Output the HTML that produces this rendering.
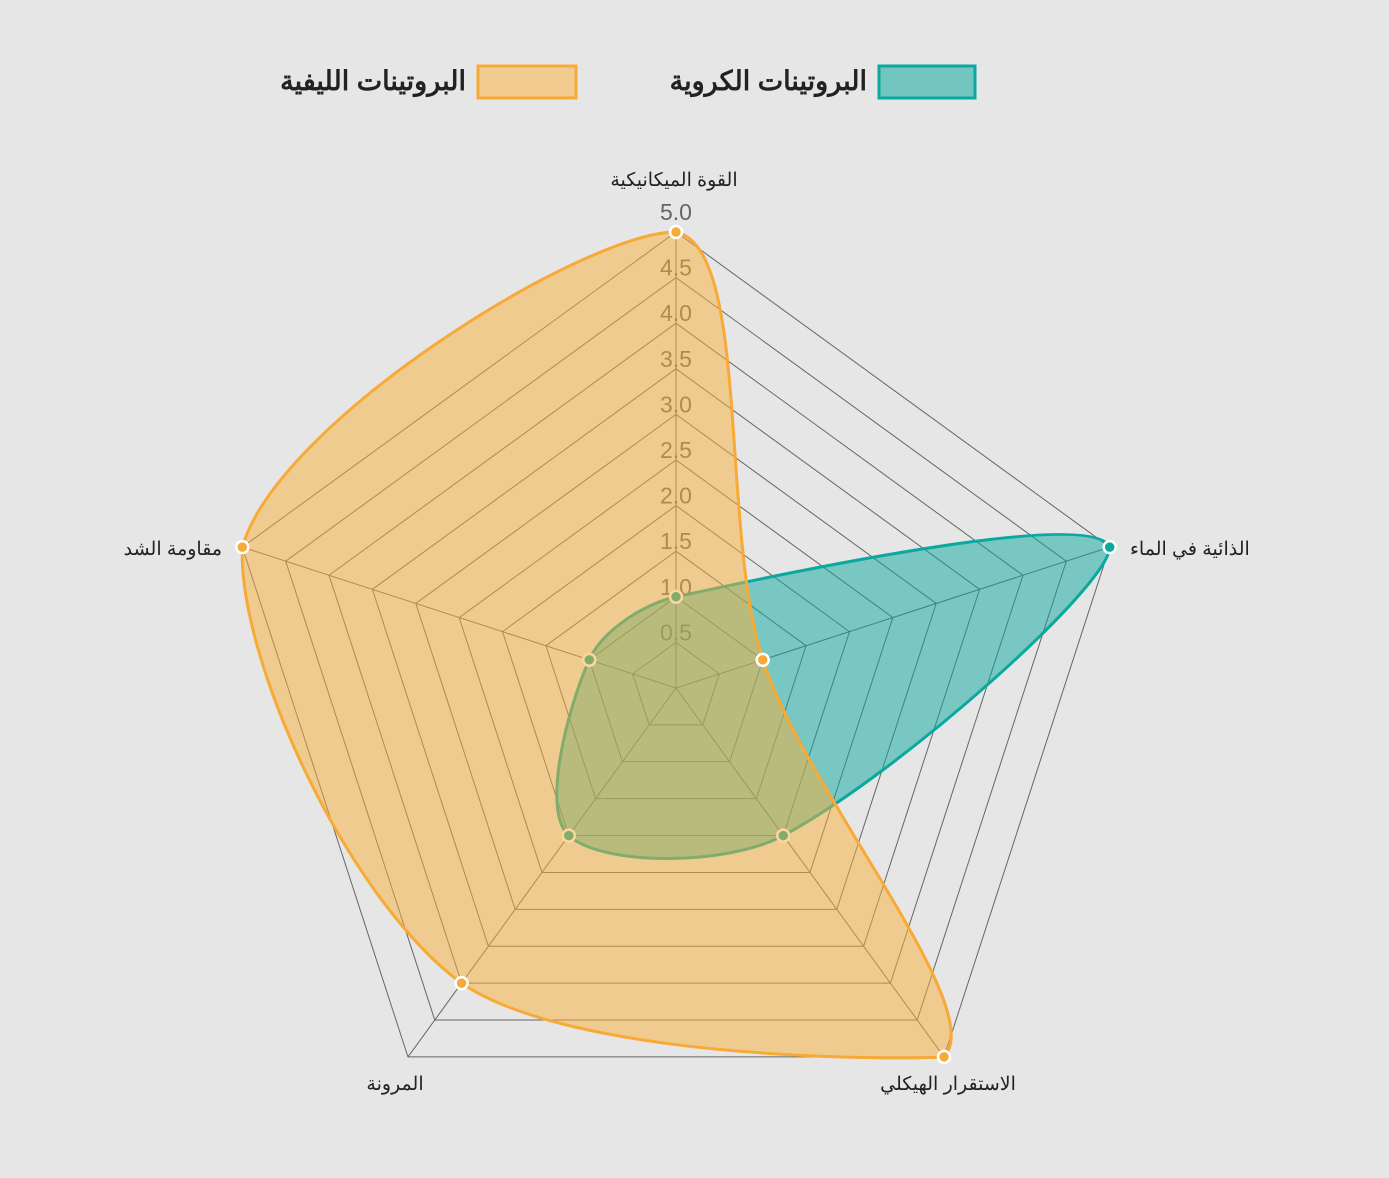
<!DOCTYPE html>
<html><head><meta charset="utf-8"><style>
body{margin:0;background:#e6e6e6;}
svg{display:block;font-family:"Liberation Sans","Noto Sans CJK SC",sans-serif;}
</style></head><body>
<svg id="s" width="1389" height="1178" viewBox="0 0 1389 1178" xmlns="http://www.w3.org/2000/svg">
<rect width="1389" height="1178" fill="#e6e6e6"/>
<rect x="879" y="66" width="96" height="32" fill="#72c6bf" stroke="#0aa89e" stroke-width="3"/>
<text x="867" y="90" text-anchor="end" direction="ltr" font-size="27" font-weight="bold" fill="#222">البروتينات الكروية</text>
<rect x="478" y="66" width="98" height="32" fill="#f1cb8f" stroke="#f7aa35" stroke-width="3"/>
<text x="466" y="90" text-anchor="end" direction="ltr" font-size="27" font-weight="bold" fill="#222">البروتينات الليفية</text>
<g id="grid"></g>
<g id="ticks" font-size="23" fill="#666" text-anchor="middle"></g>
<g id="series"></g>
<g font-size="19" fill="#222">
<text x="674" y="186" text-anchor="middle">القوة الميكانيكية</text>
<text x="1130" y="555" text-anchor="start" direction="ltr">الذائية في الماء</text>
<text x="948" y="1090" text-anchor="middle">الاستقرار الهيكلي</text>
<text x="395" y="1090" text-anchor="middle">المرونة</text>
<text x="222" y="555" text-anchor="end" direction="ltr">مقاومة الشد</text>
</g>
</svg>
<script>
var cx=676,cy=688,R=456,NS="http://www.w3.org/2000/svg";
function pt(i,v){var a=-Math.PI/2+i*2*Math.PI/5;var r=R*v/5;return [cx+r*Math.cos(a),cy+r*Math.sin(a)];}
function el(t,at,p){var e=document.createElementNS(NS,t);for(var k in at)e.setAttribute(k,at[k]);p.appendChild(e);return e;}
var g=document.getElementById('grid');
for(var l=1;l<=10;l++){var ps=[];for(var i=0;i<5;i++)ps.push(pt(i,l/2).join(','));el('polygon',{points:ps.join(' '),fill:'none',stroke:'#666','stroke-width':1},g);}
for(var i=0;i<5;i++){var p=pt(i,5);el('line',{x1:cx,y1:cy,x2:p[0],y2:p[1],stroke:'#666','stroke-width':1},g);}
var tk=document.getElementById('ticks');
for(var l=1;l<=10;l++){var y=cy-R*l/10-(l==10?12:2);var t=el('text',{x:cx,y:y},tk);t.textContent=(l/2).toFixed(1);}
function dist(a,b){return Math.hypot(a[0]-b[0],a[1]-b[1]);}
function cl(p){return [Math.max(238,Math.min(1110,p[0])),Math.max(232,Math.min(1060,p[1]))];}
function spline(vals){var P=vals.map(function(v,i){return pt(i,v);}),n=P.length,t=0.32,cps=[];
for(var i=0;i<n;i++){var p0=P[(i-1+n)%n],p1=P[i],p2=P[(i+1)%n];var d01=dist(p0,p1),d12=dist(p1,p2),s=d01+d12;var fa=t*d01/s,fb=t*d12/s;
cps.push({prev:cl([p1[0]-fa*(p2[0]-p0[0]),p1[1]-fa*(p2[1]-p0[1])]),next:cl([p1[0]+fb*(p2[0]-p0[0]),p1[1]+fb*(p2[1]-p0[1])])});}
var d='M'+P[0].join(',');
for(var i=0;i<n;i++){var j=(i+1)%n;d+=' C'+cps[i].next.join(',')+' '+cps[j].prev.join(',')+' '+P[j].join(',');}return d+'Z';}
var s=document.getElementById('series');
var sets=[{v:[1,5,2,2,1],f:'rgba(10,168,158,0.5)',c:'#0aa89e'},{v:[5,1,5,4,5],f:'rgba(250,175,55,0.5)',c:'#f7aa35'}];
sets.forEach(function(d){el('path',{d:spline(d.v),fill:d.f,stroke:d.c,'stroke-width':3},s);
d.v.forEach(function(v,i){var p=pt(i,v);el('circle',{cx:p[0],cy:p[1],r:6,fill:d.c,stroke:'#fff','stroke-width':2.5},s);});});
</script>
</body></html>
